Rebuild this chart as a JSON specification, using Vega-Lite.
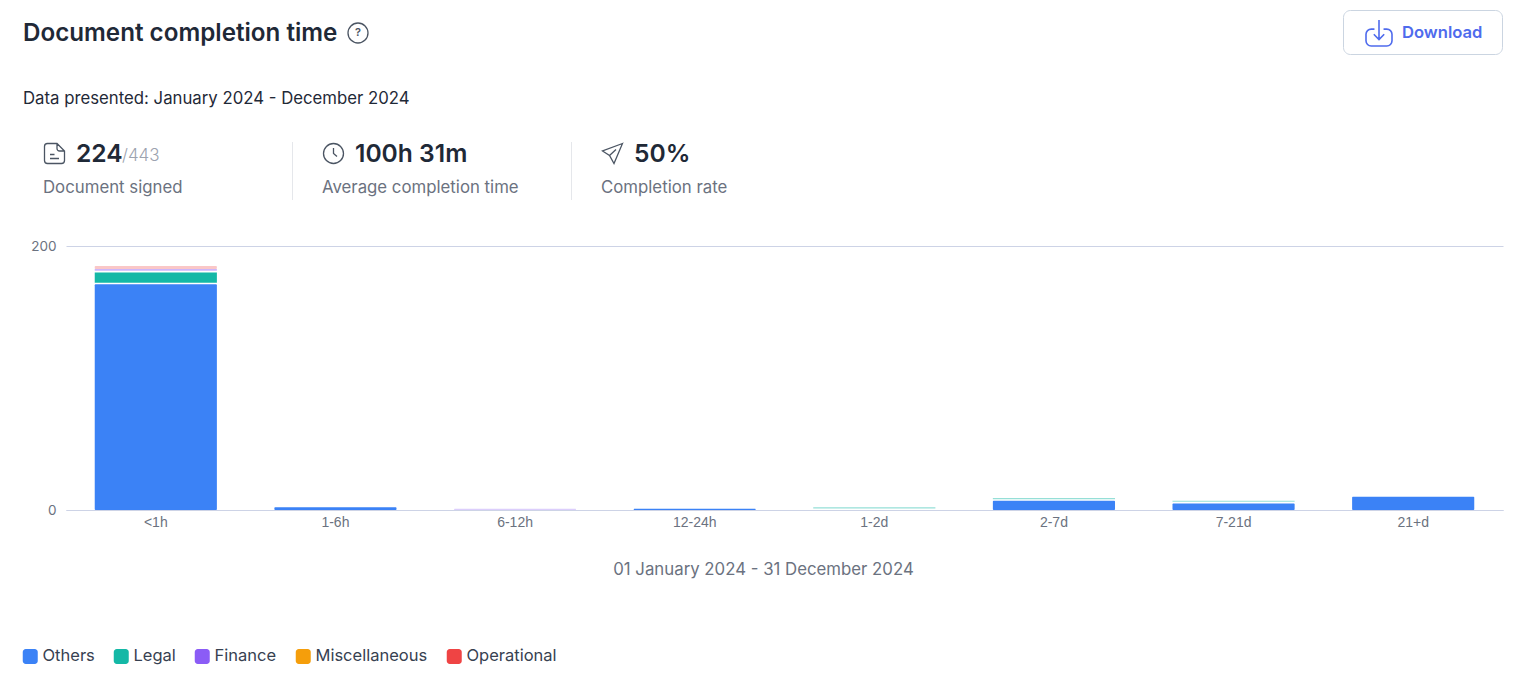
{
"$schema":"https://vega.github.io/schema/vega-lite/v6.json",
"width":1437,"height":264,
"autosize":{"type":"none"},
"padding":{"left":66,"top":246,"right":11,"bottom":169},
"background":"white",
"title":{"text":"Document completion time","subtitle":"Data presented: January 2024 - December 2024","anchor":"start","frame":"group","dx":-43,"offset":0,"dy":98,"font":"Inter","fontSize":24.2,"fontWeight":600,"color":"#1f2937","subtitleFont":"Inter","subtitleFontSize":16.75,"subtitleColor":"#1f2937","subtitlePadding":45},
"config":{"view":{"stroke":null},"text":{"font":"Inter"}},
"resolve":{"scale":{"x":"independent","y":"independent","shape":"independent","color":"independent","opacity":"independent"}},
"datasets":{"bars":[
{"bucket":"<1h","category":"Others","rank":1,"count":171},{"bucket":"<1h","category":"Legal","rank":2,"count":9},{"bucket":"<1h","category":"Finance","rank":3,"count":2.5},{"bucket":"<1h","category":"Operational","rank":5,"count":2.3},
{"bucket":"1-6h","category":"Others","rank":1,"count":2},
{"bucket":"6-12h","category":"Finance","rank":3,"count":1},
{"bucket":"12-24h","category":"Others","rank":1,"count":1},
{"bucket":"1-2d","category":"Legal","rank":2,"count":2},
{"bucket":"2-7d","category":"Others","rank":1,"count":7},{"bucket":"2-7d","category":"Legal","rank":2,"count":2},
{"bucket":"7-21d","category":"Others","rank":1,"count":5},{"bucket":"7-21d","category":"Legal","rank":2,"count":2},
{"bucket":"21+d","category":"Others","rank":1,"count":10}
]},
"layer":[
{"data":{"name":"bars"},
"transform":[{"stack":"count","groupby":["bucket"],"sort":[{"field":"rank"}],"as":["low","high"]},{"filter":"datum.category=='Others' || datum.category=='Operational' || datum.count<=1"}],
"mark":{"type":"bar","cornerRadius":1},
"encoding":{
"x":{"field":"bucket","type":"nominal","sort":["<1h","1-6h","6-12h","12-24h","1-2d","2-7d","7-21d","21+d"],"scale":{"domain":["<1h","1-6h","6-12h","12-24h","1-2d","2-7d","7-21d","21+d"],"paddingInner":0.32,"paddingOuter":0.16},
"axis":{"title":"01 January 2024 - 31 December 2024","titleFont":"Inter","titleFontSize":16.8,"titleFontWeight":400,"titleColor":"#6b7280","titleX":697,"titleY":64,"titleBaseline":"alphabetic","labelAngle":0,"labelFont":"Liberation Sans","labelFontSize":14,"labelColor":"#6b7280","labelPadding":5,"ticks":false,"domainColor":"#cdd3e6","domainWidth":1}},
"y":{"field":"high","type":"quantitative","scale":{"domain":[0,200]},
"axis":{"title":null,"values":[0,200],"domain":false,"ticks":false,"grid":true,"gridColor":"#cdd3e6","gridWidth":1,"labelFont":"Inter","labelFontSize":13.5,"labelColor":"#6b7280","labelPadding":10}},
"y2":{"field":"low"},
"opacity":{"condition":{"test":"datum.category!='Others' && datum.count<=3","value":0.3},"value":1},
"color":{"field":"category","type":"nominal","scale":{"domain":["Others","Legal","Finance","Miscellaneous","Operational"],"range":["#3b82f6","#14b8a6","#8b5cf6","#f59e0b","#ef4444"]},
"legend":{"title":null,"orient":"none","legendX":-44,"legendY":402,"direction":"horizontal","columns":5,"symbolType":"M-0.6,-1H0.6A0.4,0.4,0,0,1,1,-0.6V0.6A0.4,0.4,0,0,1,0.6,1H-0.6A0.4,0.4,0,0,1,-1,0.6V-0.6A0.4,0.4,0,0,1,-0.6,-1Z","symbolSize":225,"symbolOpacity":1,"symbolStrokeWidth":0,"labelFont":"Inter","labelFontSize":16.5,"labelColor":"#374151","labelOffset":4,"columnPadding":18,"labelLimit":200}}
}},
{"data":{"name":"bars"},
"transform":[{"stack":"count","groupby":["bucket"],"sort":[{"field":"rank"}],"as":["low","high"]},{"filter":"datum.category!='Others' && datum.category!='Operational' && datum.count>1"}],
"mark":{"type":"bar","y2Offset":-1.6},
"encoding":{
"x":{"field":"bucket","type":"nominal","axis":null,"sort":["<1h","1-6h","6-12h","12-24h","1-2d","2-7d","7-21d","21+d"],"scale":{"domain":["<1h","1-6h","6-12h","12-24h","1-2d","2-7d","7-21d","21+d"],"paddingInner":0.32,"paddingOuter":0.16}},
"y":{"field":"high","type":"quantitative","axis":null,"scale":{"domain":[0,200]}},
"y2":{"field":"low"},
"opacity":{"condition":{"test":"datum.count<=3","value":0.45},"value":1},
"color":{"field":"category","type":"nominal","legend":null,"scale":{"domain":["Others","Legal","Finance","Miscellaneous","Operational"],"range":["#3b82f6","#14b8a6","#8b5cf6","#f59e0b","#ef4444"]}}
}},
{"data":{"values":[{"kpi":"Average completion time","end":"top","other":"bottom"},{"kpi":"Completion rate","end":"top","other":"bottom"}]},
"mark":{"type":"rule","color":"#e5e7eb","strokeWidth":1,"xOffset":-29.5},
"encoding":{"x":{"field":"kpi","type":"nominal","axis":null,"scale":{"type":"point","padding":0,"domain":["Document signed","Average completion time","Completion rate"],"range":[-23,535]}},
"y":{"field":"end","type":"nominal","axis":null,"scale":{"type":"point","padding":0,"domain":["top","bottom"],"range":[-104,-46]}},
"y2":{"field":"other"}}},
{"data":{"values":[{"kpi":"Document signed","line":"value"},{"kpi":"Average completion time","line":"value"},{"kpi":"Completion rate","line":"value"}]},
"mark":{"type":"point","filled":false,"stroke":"#4b5563","strokeWidth":1.3,"opacity":1,"xOffset":11.5,"size":400},
"encoding":{"x":{"field":"kpi","type":"nominal","axis":null,"scale":{"type":"point","padding":0,"domain":["Document signed","Average completion time","Completion rate"],"range":[-23,535]}},
"y":{"field":"line","type":"nominal","axis":null,"scale":{"type":"point","padding":0,"domain":["value","label"],"range":[-92.5,-59]}},
"shape":{"field":"kpi","type":"nominal","legend":null,"scale":{"domain":["Document signed","Average completion time","Completion rate"],"range":[
"M-0.7,-1H0.25L1,-0.25V0.7A0.3,0.3,0,0,1,0.7,1H-0.7A0.3,0.3,0,0,1,-1,0.7V-0.7A0.3,0.3,0,0,1,-0.7,-1ZM0.25,-1V-0.5A0.25,0.25,0,0,0,0.5,-0.25H1M-0.45,0.1H0M-0.45,0.5H0.45",
"M1,0A1,1,0,1,1,-1,0A1,1,0,1,1,1,0ZM0,-0.55V0L0.35,0.3",
"M1,-1L-1,-0.25L-0.3,0.2L0.15,1ZM-0.3,0.2L0.35,-0.4"]}}}},
{"data":{"values":[{"kpi":"Document signed","line":"value","text":"224"},{"kpi":"Average completion time","line":"value","text":"100h 31m"},{"kpi":"Completion rate","line":"value","text":"50%"}]},
"mark":{"type":"text","align":"left","baseline":"middle","dx":33,"font":"Inter","fontSize":24.6,"fontWeight":600,"color":"#1f2937"},
"encoding":{"x":{"field":"kpi","type":"nominal","axis":null,"scale":{"type":"point","padding":0,"domain":["Document signed","Average completion time","Completion rate"],"range":[-23,535]}},
"y":{"field":"line","type":"nominal","axis":null,"scale":{"type":"point","padding":0,"domain":["value","label"],"range":[-91.5,-58]}},
"text":{"field":"text"}}},
{"data":{"values":[{"kpi":"Document signed","line":"value","text":"/443"}]},
"mark":{"type":"text","align":"left","baseline":"middle","dx":79,"dy":1.5,"font":"Inter","fontSize":17,"fontWeight":300,"color":"#9ca3af"},
"encoding":{"x":{"field":"kpi","type":"nominal","axis":null,"scale":{"type":"point","padding":0,"domain":["Document signed","Average completion time","Completion rate"],"range":[-23,535]}},
"y":{"field":"line","type":"nominal","axis":null,"scale":{"type":"point","padding":0,"domain":["value","label"],"range":[-92,-58]}},
"text":{"field":"text"}}},
{"data":{"values":[{"kpi":"Document signed","line":"label"},{"kpi":"Average completion time","line":"label"},{"kpi":"Completion rate","line":"label"}]},
"mark":{"type":"text","align":"left","baseline":"middle","font":"Inter","fontSize":16.8,"color":"#6b7280"},
"encoding":{"x":{"field":"kpi","type":"nominal","axis":null,"scale":{"type":"point","padding":0,"domain":["Document signed","Average completion time","Completion rate"],"range":[-23,535]}},
"y":{"field":"line","type":"nominal","axis":null,"scale":{"type":"point","padding":0,"domain":["value","label"],"range":[-92,-58.5]}},
"text":{"field":"kpi"}}},
{"data":{"values":[{"control":"Help"}]},
"mark":{"type":"point","shape":"circle","filled":false,"stroke":"#4b5563","strokeWidth":1.3,"opacity":1,"size":400},
"encoding":{"x":{"field":"control","type":"nominal","axis":null,"scale":{"type":"point","domain":["Help"],"range":[292,292]}},
"y":{"field":"control","type":"nominal","axis":null,"scale":{"type":"point","domain":["Help"],"range":[-213,-213]}}}},
{"data":{"values":[{"control":"Help","text":"?"}]},
"mark":{"type":"text","align":"center","baseline":"middle","font":"Inter","fontSize":11,"fontWeight":600,"color":"#4b5563"},
"encoding":{"x":{"field":"control","type":"nominal","axis":null,"scale":{"type":"point","domain":["Help"],"range":[292,292]}},
"y":{"field":"control","type":"nominal","axis":null,"scale":{"type":"point","domain":["Help"],"range":[-213,-213]}},
"text":{"field":"text"}}},
{"data":{"values":[{"control":"Download"}]},
"mark":{"type":"rect","fill":"white","stroke":"#cbd5e1","strokeWidth":1,"cornerRadius":7},
"encoding":{"x":{"field":"control","type":"nominal","axis":null,"scale":{"type":"band","padding":0,"domain":["Download"],"range":[1277.5,1436.5]}},
"y":{"field":"control","type":"nominal","axis":null,"scale":{"type":"band","padding":0,"domain":["Download"],"range":[-235.5,-191.5]}}}},
{"data":{"values":[{"control":"Download"}]},
"mark":{"type":"point","shape":"M-0.35,-0.3H-0.6A0.4,0.4,0,0,0,-1,0.1V0.6A0.4,0.4,0,0,0,-0.6,1H0.6A0.4,0.4,0,0,0,1,0.6V0.1A0.4,0.4,0,0,0,0.6,-0.3H0.35M0,-1V0.45M-0.4,0.1L0,0.5L0.4,0.1","filled":false,"stroke":"#4f6bed","strokeWidth":1.6,"opacity":1,"size":676},
"encoding":{"x":{"field":"control","type":"nominal","axis":null,"scale":{"type":"point","domain":["Download"],"range":[1313,1313]}},
"y":{"field":"control","type":"nominal","axis":null,"scale":{"type":"point","domain":["Download"],"range":[-213,-213]}}}},
{"data":{"values":[{"control":"Download"}]},
"mark":{"type":"text","align":"left","baseline":"middle","font":"Inter","fontSize":16.6,"fontWeight":600,"color":"#4f6bed"},
"encoding":{"x":{"field":"control","type":"nominal","axis":null,"scale":{"type":"point","domain":["Download"],"range":[1336,1336]}},
"y":{"field":"control","type":"nominal","axis":null,"scale":{"type":"point","domain":["Download"],"range":[-213,-213]}},
"text":{"field":"control"}}}
]
}
